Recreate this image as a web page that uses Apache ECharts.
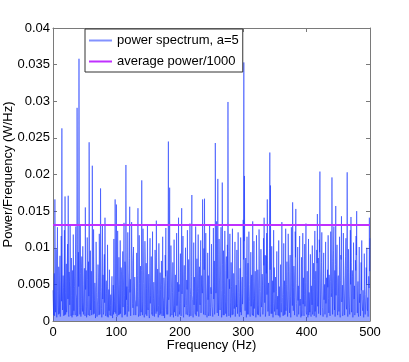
<!DOCTYPE html>
<html>
<head>
<meta charset="utf-8">
<script src="https://cdn.jsdelivr.net/npm/echarts@6/dist/echarts.min.js"></script>
<style>
  html, body { margin: 0; padding: 0; background: #fff; }
  #chart { width: 409px; height: 362px; }
</style>
</head>
<body>
<div id="chart"></div>
<script>
  // power spectral density, units of 0.001 W/Hz
  // samples at whole Hz (0..500)
  const spectrumMilli = [
    4.2, 0.8, 6.5, 16.6, 1.2, 9.8, 0.5, 12.8, 2.1, 7.4,
    1.0, 8.9, 0.4, 11.6, 26.3, 1.5, 6.2, 0.7, 12.4, 17.0,
    0.9, 7.8, 2.3, 10.5, 17.1, 0.6, 5.4, 13.2, 1.1, 8.6,
    0.5, 6.9, 11.8, 1.4, 4.7, 0.8, 12.9, 3.2, 29.1, 0.7,
    9.4, 35.8, 1.9, 13.1, 0.6, 7.3, 2.5, 10.2, 0.9, 5.8,
    1.3, 15.5, 4.1, 0.5, 11.4, 2.8, 8.1, 24.4, 0.7, 9.6,
    3.4, 0.8, 21.2, 6.7, 12.5, 1.0, 5.2, 0.4, 10.8, 3.9,
    0.6, 7.7, 2.2, 11.9, 0.9, 18.1, 4.6, 0.5, 13.0, 6.3,
    1.2, 9.1, 14.1, 0.7, 5.5, 2.0, 10.4, 0.5, 4.3, 7.0,
    0.8, 3.6, 1.5, 6.1, 0.4, 4.9, 11.2, 2.7, 16.6, 1.0,
    15.9, 0.6, 12.3, 3.8, 8.7, 0.9, 11.0, 2.4, 6.8, 0.5,
    9.5, 1.7, 13.4, 0.8, 7.2, 21.3, 2.9, 0.6, 12.1, 4.4,
    1.1, 15.6, 5.7, 0.5, 13.5, 8.3, 1.8, 10.1, 0.7, 6.0,
    2.6, 0.9, 9.3, 4.0, 15.4, 0.6, 11.7, 3.1, 7.5, 1.2,
    19.2, 0.8, 12.6, 5.1, 0.5, 10.9, 2.3, 7.9, 0.7, 13.0,
    1.5, 6.4, 0.4, 11.3, 3.5, 8.8, 0.9, 12.2, 2.0, 5.3,
    0.6, 9.7, 4.8, 13.7, 1.3, 7.1, 0.5, 10.6, 3.0, 6.6,
    1.0, 8.2, 0.7, 11.5, 2.8, 5.9, 0.4, 9.0, 12.7, 1.6,
    6.9, 0.9, 24.5, 3.3, 18.2, 0.6, 10.3, 4.5, 1.1, 8.0,
    0.5, 11.1, 2.1, 6.3, 0.8, 12.0, 3.7, 0.6, 14.1, 5.0,
    1.4, 9.2, 0.7, 15.4, 4.2, 11.6, 0.5, 7.6, 2.4, 10.0,
    0.9, 5.6, 12.4, 1.8, 8.4, 0.6, 13.3, 3.6, 0.8, 17.2,
    2.9, 0.5, 10.7, 6.0, 1.2, 12.9, 0.7, 8.5, 4.0, 11.8,
    0.6, 7.4, 2.2, 11.0, 0.9, 5.1, 16.6, 1.5, 9.9, 16.7,
    0.8, 12.0, 3.4, 0.5, 9.3, 6.2, 1.3, 13.1, 0.7, 4.6,
    10.5, 2.0, 0.6, 12.7, 5.3, 0.9, 24.3, 3.8, 13.6, 1.1,
    19.4, 0.7, 11.2, 6.1, 1.6, 12.8, 0.5, 18.9, 4.3, 9.6,
    0.8, 12.3, 2.6, 7.8, 0.6, 10.4, 29.9, 1.2, 5.7, 11.9,
    0.5, 8.0, 3.1, 12.6, 0.9, 6.5, 1.7, 10.8, 0.6, 4.9,
    9.7, 1.0, 12.1, 3.9, 0.6, 7.2, 11.4, 0.8, 5.4, 2.3,
    13.8, 35.3, 19.8, 1.4, 8.6, 0.5, 11.5, 4.1, 0.9, 12.2,
    2.7, 0.6, 9.4, 5.8, 1.1, 13.6, 0.7, 10.9, 3.5, 6.8,
    0.5, 11.7, 2.1, 7.0, 0.8, 12.5, 4.4, 0.6, 9.8, 1.9,
    6.4, 0.9, 11.3, 14.1, 2.5, 0.6, 8.9, 12.0, 16.6, 1.3,
    5.2, 0.7, 23.0, 18.5, 1.0, 10.2, 3.6, 0.5, 12.4, 7.3,
    1.5, 6.0, 0.6, 9.5, 2.9, 0.8, 11.0, 4.7, 0.5, 7.7,
    1.2, 13.5, 3.2, 0.7, 10.6, 5.5, 0.9, 12.6, 2.0, 8.1,
    0.6, 11.9, 4.0, 1.1, 9.0, 0.5, 12.8, 6.6, 16.2, 1.4,
    7.5, 0.8, 12.2, 15.3, 2.4, 0.6, 10.1, 4.8, 0.9, 11.6,
    3.0, 0.5, 8.7, 1.6, 12.0, 5.9, 0.7, 10.5, 2.8, 13.3,
    0.9, 6.8, 0.5, 11.2, 3.9, 1.2, 9.1, 0.6, 5.0, 10.3,
    1.4, 7.9, 0.7, 12.3, 2.6, 0.5, 9.7, 14.6, 4.2, 1.0,
    11.1, 20.4, 0.8, 6.3, 12.1, 1.8, 0.6, 9.3, 3.7, 0.9,
    10.8, 2.3, 0.5, 7.0, 11.7, 1.1, 5.6, 0.7, 12.2, 3.3,
    19.6, 0.9, 8.5, 12.9, 1.5, 0.6, 15.7, 4.9, 10.4, 0.8,
    6.2, 1.3, 11.5, 0.5, 9.0, 14.3, 2.7, 0.7, 12.0, 4.5,
    0.8, 7.6, 11.3, 1.6, 20.3, 0.6, 9.8, 3.4, 0.9, 12.4,
    14.2, 1.2, 6.9, 0.5, 10.7, 3.0, 0.8, 8.3, 11.6, 15.0,
    1.1, 5.4, 0.6, 10.1, 2.5, 0.7, 8.0, 11.0, 1.9, 4.2,
    0.5, 9.2, 3.6, 0.9, 7.3, 10.0, 1.4, 0.6, 6.1, 14.1,
    11.3
  ]
  // samples half way between them (0.5..499.5 Hz)
  const halfStepMilli = [
    2.4, 5.1, 0.7, 7.9, 3.3, 1.1, 8.6, 4.0, 0.9, 6.2,
    3.8, 0.6, 5.5, 2.7, 9.3, 1.4, 4.6, 7.1, 0.8, 3.9,
    5.8, 1.2, 8.2, 3.0, 0.9, 6.7, 2.2, 4.9, 0.7, 3.5,
    2.9, 0.8, 4.4, 7.6, 1.6, 9.1, 3.7, 0.6, 10.4, 5.3,
    4.7, 11.2, 0.9, 6.5, 3.1, 8.8, 1.3, 5.0, 2.6, 7.2,
    0.7, 4.3, 6.9, 2.0, 5.7, 0.8, 3.4, 9.6, 4.1, 1.5,
    6.8, 3.6, 10.1, 0.9, 7.4, 2.8, 4.5, 1.2, 6.0, 0.6,
    3.2, 5.9, 0.8, 8.3, 4.0, 9.7, 1.7, 6.6, 3.0, 0.9,
    7.2, 2.5, 5.4, 1.1, 3.8, 0.6, 4.7, 2.2, 1.4, 3.6,
    2.1, 0.7, 3.9, 1.5, 2.8, 0.9, 4.4, 1.2, 5.6, 3.1,
    4.8, 2.3, 6.1, 0.8, 5.0, 3.4, 1.0, 7.3, 2.6, 4.2,
    1.9, 6.4, 3.5, 8.1, 0.9, 9.4, 4.7, 2.1, 7.0, 1.3,
    8.5, 3.9, 0.7, 6.8, 9.9, 2.4, 5.3, 0.8, 4.1, 2.9,
    0.8, 4.6, 2.0, 6.2, 3.3, 1.1, 5.1, 0.7, 3.0, 6.9,
    9.0, 2.7, 7.8, 1.2, 5.6, 8.4, 0.9, 4.4, 6.3, 2.0,
    3.7, 0.9, 5.2, 2.4, 6.0, 1.3, 4.2, 0.7, 3.1, 2.2,
    4.9, 7.5, 1.0, 8.7, 3.6, 5.8, 2.1, 6.9, 0.8, 4.3,
    2.6, 5.0, 1.4, 3.3, 0.7, 4.8, 2.0, 6.1, 3.4, 0.9,
    5.5, 9.8, 2.9, 8.0, 4.6, 1.1, 6.7, 0.8, 3.9, 2.3,
    3.0, 1.2, 4.5, 0.7, 3.8, 2.1, 5.3, 1.6, 4.0, 0.9,
    6.6, 2.4, 8.9, 3.7, 7.5, 0.8, 5.9, 1.9, 6.4, 3.2,
    2.1, 4.3, 0.8, 5.6, 2.9, 1.0, 4.6, 0.7, 6.1, 3.5,
    1.4, 4.0, 2.2, 5.2, 0.9, 6.8, 3.1, 1.3, 7.6, 4.4,
    5.9, 2.6, 8.1, 1.1, 6.2, 3.8, 9.3, 0.9, 7.0, 4.5,
    2.3, 5.6, 1.0, 4.1, 2.9, 0.7, 5.0, 3.2, 1.8, 3.7,
    4.4, 1.2, 6.7, 3.0, 8.2, 2.5, 10.6, 4.9, 7.3, 0.9,
    9.1, 3.4, 6.0, 1.5, 8.6, 4.2, 2.0, 7.7, 0.8, 5.5,
    3.6, 6.9, 1.0, 8.8, 2.7, 5.8, 9.5, 0.7, 4.4, 6.3,
    2.5, 4.7, 0.8, 3.9, 1.6, 5.1, 2.3, 0.6, 3.5, 1.9,
    4.1, 2.4, 5.7, 0.9, 3.3, 1.2, 4.8, 2.0, 6.0, 3.7,
    8.4, 10.9, 4.6, 7.1, 2.9, 6.2, 0.9, 7.9, 3.3, 5.0,
    1.2, 4.5, 2.0, 6.3, 0.8, 5.4, 3.1, 1.7, 4.9, 2.6,
    3.8, 6.6, 0.9, 5.3, 2.2, 7.2, 1.3, 4.0, 6.8, 2.7,
    4.9, 2.1, 7.6, 5.2, 9.0, 1.1, 6.5, 3.6, 8.3, 4.4,
    2.8, 9.9, 7.0, 4.1, 6.2, 1.0, 5.5, 2.4, 3.9, 1.3,
    3.1, 0.8, 4.0, 1.6, 3.4, 2.2, 0.7, 4.6, 1.9, 3.3,
    2.5, 5.2, 1.1, 3.6, 0.8, 4.7, 2.6, 1.4, 5.0, 3.0,
    4.2, 6.8, 1.9, 7.4, 3.3, 5.6, 8.5, 2.1, 9.2, 4.6,
    6.0, 3.2, 8.7, 5.1, 1.0, 6.4, 2.8, 0.9, 4.3, 2.1,
    1.5, 3.8, 0.7, 4.5, 2.3, 1.1, 3.6, 2.0, 5.3, 1.2,
    3.0, 1.4, 4.2, 0.8, 2.6, 3.9, 1.1, 4.8, 2.2, 0.9,
    4.0, 2.5, 5.7, 1.3, 6.8, 3.4, 7.9, 2.0, 8.6, 5.2,
    9.4, 7.1, 3.6, 8.0, 4.8, 1.2, 6.5, 2.9, 5.0, 3.8,
    2.4, 5.9, 1.0, 4.6, 3.1, 6.3, 2.2, 5.4, 7.5, 3.9,
    8.1, 4.4, 9.6, 2.7, 6.9, 7.7, 3.5, 8.2, 1.6, 5.8,
    3.3, 7.0, 1.2, 5.5, 8.4, 2.6, 4.9, 1.5, 6.2, 3.0,
    5.6, 8.8, 2.3, 9.7, 7.2, 4.1, 6.6, 1.8, 7.9, 5.0,
    8.0, 3.7, 6.1, 2.2, 7.5, 4.8, 1.3, 6.9, 9.0, 4.1,
    3.4, 1.0, 4.6, 2.5, 3.7, 0.8, 4.2, 2.9, 1.4, 3.1,
    2.2, 4.4, 0.9, 3.6, 5.1, 1.7, 3.2, 0.8, 4.5, 6.8
  ]
  const freqStep = 1          // Hz between whole-Hz samples
  const averagePower = 0.0131 // average power / 1000, W/Hz
  const xTicks = [0, 100, 200, 300, 400, 500]
  const yTicks = [0, 0.005, 0.01, 0.015, 0.02, 0.025, 0.03, 0.035, 0.04]
  const yTickLabels = ['0', '0.005', '0.01', '0.015', '0.02', '0.025', '0.03', '0.035', '0.04']

  const font = '"Liberation Sans", Arial, Helvetica, sans-serif'
  const boxColor = '#7a7a7a'
  const blue = 'rgba(25, 55, 255, 0.55)'
  const magenta = '#c030ff'

  // interleave the two sample sets into one trace
  const spectrum = []
  spectrumMilli.forEach((v, i) => {
    spectrum.push([i * freqStep, v / 1000])
    if (i < halfStepMilli.length) spectrum.push([(i + 0.5) * freqStep, halfStepMilli[i] / 1000])
  })
  const fMax = xTicks[xTicks.length - 1]

  const chart = echarts.init(document.getElementById('chart'), null, {renderer: 'canvas'})

  // MATLAB style box: ticks pointing inward on all four sides
  const frameX = (pos, labels) => ({
    type: 'value',
    position: pos,
    min: xTicks[0],
    max: fMax,
    interval: 100,
    axisLine: {show: true, onZero: false, lineStyle: {color: boxColor, width: 1}},
    axisTick: {show: true, inside: true, length: 4, lineStyle: {color: boxColor}},
    axisLabel: {show: labels, color: '#000', fontSize: 13, fontFamily: font, margin: 5},
    splitLine: {show: false}
  })
  const frameY = (pos, labels) => ({
    type: 'value',
    position: pos,
    min: yTicks[0],
    max: yTicks[yTicks.length - 1],
    interval: 0.005,
    axisLine: {show: true, onZero: false, lineStyle: {color: boxColor, width: 1}},
    axisTick: {show: true, inside: true, length: 4, lineStyle: {color: boxColor}},
    axisLabel: {
      show: labels,
      color: '#000',
      fontSize: 13,
      fontFamily: font,
      margin: 3,
      formatter (value) {
        const i = yTicks.findIndex(t => Math.abs(t - value) < 1e-9)
        return i >= 0 ? yTickLabels[i] : ''
      }
    },
    splitLine: {show: false}
  })

  const xBottom = frameX('bottom', true)
  xBottom.name = 'Frequency (Hz)'
  xBottom.nameLocation = 'middle'
  xBottom.nameGap = 18
  xBottom.nameMoveOverlap = false
  xBottom.nameTextStyle = {color: '#000', fontSize: 13, fontFamily: font}

  const yLeft = frameY('left', true)
  yLeft.name = 'Power/Frequency (W/Hz)'
  yLeft.nameLocation = 'middle'
  yLeft.nameGap = 38
  yLeft.nameMoveOverlap = false
  yLeft.nameTextStyle = {color: '#000', fontSize: 13, fontFamily: font}

  chart.setOption({
    animation: false,
    backgroundColor: '#fff',
    grid: {left: 53, right: 39, top: 28, bottom: 41, containLabel: false, outerBoundsMode: 'none'},
    xAxis: [xBottom, frameX('top', false)],
    yAxis: [yLeft, frameY('right', false)],
    legend: {
      left: 85,
      top: 29,
      orient: 'vertical',
      backgroundColor: '#fff',
      borderColor: '#333',
      borderWidth: 1,
      borderRadius: 0,
      padding: [5, 4, 4, 4],
      itemWidth: 23,
      itemHeight: 2,
      itemGap: 8,
      textStyle: {color: '#000', fontSize: 13, fontFamily: font},
      data: [
        {name: 'power spectrum, a=5', icon: 'rect', itemStyle: {color: 'rgba(90, 110, 255, 0.75)'}},
        {name: 'average power/1000', icon: 'rect', itemStyle: {color: magenta}}
      ]
    },
    series: [
      {
        name: 'power spectrum, a=5',
        type: 'line',
        xAxisIndex: 0,
        yAxisIndex: 0,
        data: spectrum,
        symbol: 'none',
        clip: true,
        lineStyle: {color: blue, width: 1},
        itemStyle: {color: blue},
        areaStyle: {color: 'rgba(35, 65, 255, 0.7)', origin: 'start'},
        z: 2
      },
      {
        name: 'average power/1000',
        type: 'line',
        xAxisIndex: 0,
        yAxisIndex: 0,
        data: [[xTicks[0], averagePower], [fMax, averagePower]],
        symbol: 'none',
        lineStyle: {color: magenta, width: 2},
        itemStyle: {color: magenta},
        z: 3
      }
    ]
  })
</script>
</body>
</html>
